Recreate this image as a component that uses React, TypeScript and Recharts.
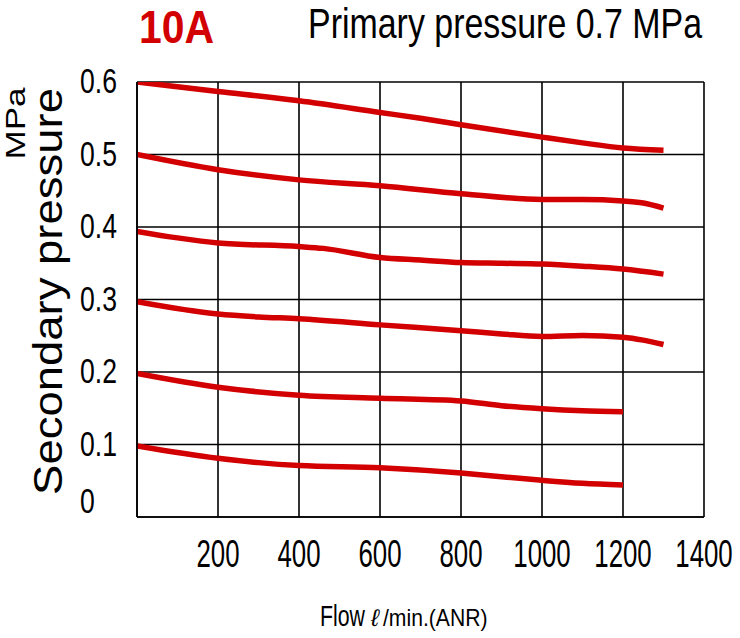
import { LineChart, Line, XAxis, YAxis, CartesianGrid } from "recharts";

const FONT = "'Liberation Sans', Arial, sans-serif";
const RED = "#d20000";

// flow ticks (l/min ANR) and secondary pressure ticks (MPa)
const flowTicks = [0, 200, 400, 600, 800, 1000, 1200, 1400];
const pressureTicks = [0, 0.1, 0.2, 0.3, 0.4, 0.5, 0.6];

// one curve per set pressure: [flow, pressure]
const set06 = [
  [0, 0.6], [200, 0.587], [400, 0.574], [600, 0.558], [700, 0.55], [800, 0.541],
  [1000, 0.524], [1100, 0.516], [1200, 0.509], [1300, 0.506],
];
const set05 = [
  [0, 0.5], [200, 0.479], [400, 0.465], [600, 0.457], [800, 0.446], [1000, 0.438],
  [1100, 0.438], [1200, 0.436], [1250, 0.433], [1300, 0.426],
];
const set04 = [
  [0, 0.394], [100, 0.385], [200, 0.378], [400, 0.373], [460, 0.3705],
  [600, 0.358], [700, 0.3545], [800, 0.351], [900, 0.35], [1000, 0.349],
  [1100, 0.346], [1200, 0.342], [1300, 0.335],
];
const set03 = [
  [0, 0.297], [200, 0.28], [300, 0.276], [400, 0.2735], [600, 0.265], [800, 0.257],
  [900, 0.2525], [1000, 0.249], [1100, 0.2505], [1200, 0.248], [1250, 0.244],
  [1300, 0.238],
];
const set02 = [
  [0, 0.198], [200, 0.179], [400, 0.168], [600, 0.1637], [800, 0.16],
  [900, 0.1535], [1000, 0.1494], [1100, 0.1466], [1200, 0.1453],
];
const set01 = [
  [0, 0.098], [200, 0.081], [300, 0.075], [400, 0.071], [600, 0.068], [800, 0.0607],
  [900, 0.0555], [1000, 0.0506], [1100, 0.0465], [1200, 0.0441],
];

const curves = [set06, set05, set04, set03, set02, set01];

const toRows = (pts: number[][]) => pts.map(([x, y]) => ({ x, y }));

// the original lettering is a condensed/stretched sans, so squeeze Liberation Sans
const Squeezed = ({ x, y, sx, size, rotate = 0, anchor = "start", bold, fill = "#000", italic, children }: any) => (
  <text
    transform={`translate(${x},${y}) rotate(${rotate}) scale(${sx},1)`}
    textAnchor={anchor}
    fontFamily={FONT}
    fontSize={size}
    fontWeight={bold ? "bold" : "normal"}
    fontStyle={italic ? "italic" : "normal"}
    fill={fill}
  >
    {children}
  </text>
);

const FlowTick = ({ x, payload }: any) => {
  const v = payload.value;
  if (v === 0) return null;
  return (
    <Squeezed x={x} y={567} sx={0.68} size={38} anchor="middle">
      {String(v)}
    </Squeezed>
  );
};

const PressureTick = ({ y, payload }: any) => {
  const v = payload.value;
  return (
    <Squeezed x={80} y={v === 0 ? y - 4 : y + 11} sx={0.76} size={35}>
      {v === 0 ? "0" : v.toFixed(1)}
    </Squeezed>
  );
};

export default function App() {
  return (
    <div style={{ position: "absolute", left: 0, top: 0, width: 740, height: 638, background: "#fff" }}>
      <LineChart
        width={740}
        height={638}
        margin={{ top: 82, right: 36, left: 0, bottom: 0 }}
      >
        <CartesianGrid stroke="#000" strokeWidth={1.6} />
        <XAxis
          type="number"
          dataKey="x"
          domain={[0, 1400]}
          ticks={flowTicks}
          height={121}
          axisLine={{ stroke: "#000", strokeWidth: 1.6 }}
          tickLine={false}
          tick={<FlowTick />}
          allowDataOverflow
        />
        <YAxis
          type="number"
          domain={[0, 0.6]}
          ticks={pressureTicks}
          width={137}
          axisLine={{ stroke: "#000", strokeWidth: 1.6 }}
          tickLine={false}
          tick={<PressureTick />}
          allowDataOverflow
        />
        {curves.map((c, i) => (
          <Line
            key={i}
            data={toRows(c)}
            dataKey="y"
            type="monotone"
            stroke={RED}
            strokeWidth={5.5}
            dot={false}
            activeDot={false}
            isAnimationActive={false}
          />
        ))}
      </LineChart>
      <svg
        width={740}
        height={638}
        style={{ position: "absolute", left: 0, top: 0, pointerEvents: "none" }}
      >
        <Squeezed x={139} y={43} sx={0.87} size={47} bold fill={RED}>10A</Squeezed>
        <Squeezed x={308} y={38} sx={0.808} size={42}>Primary pressure 0.7 MPa</Squeezed>
        <Squeezed x={62} y={291.5} rotate={-90} sx={1.137} size={40} anchor="middle">
          Secondary pressure
        </Squeezed>
        <Squeezed x={25} y={123.5} rotate={-90} sx={1.3} size={27} anchor="middle">
          MPa
        </Squeezed>
        <Squeezed x={320} y={626} sx={0.735} size={29}>Flow</Squeezed>
        <Squeezed x={371} y={626} sx={1} size={24} italic>ℓ</Squeezed>
        <Squeezed x={383} y={626} sx={0.92} size={23}>/min.(ANR)</Squeezed>
      </svg>
    </div>
  );
}
